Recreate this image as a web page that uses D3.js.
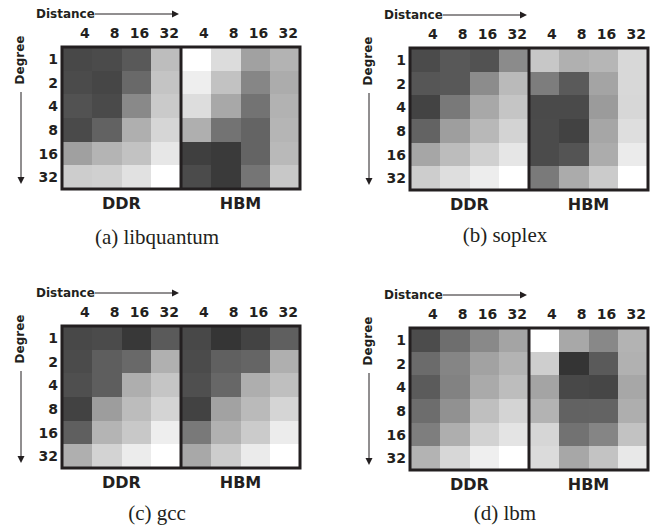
<!DOCTYPE html>
<html>
<head>
<meta charset="utf-8">
<script src="https://cdn.jsdelivr.net/npm/d3@7"></script>
<style>
  body { margin: 0; background: #fff; }
  text { fill: #231f20; }
</style>
</head>
<body>
<svg width="654" height="527"></svg>
<script>
// Axis categories
const distances = ["4", "8", "16", "32"];
const degrees = ["1", "2", "4", "8", "16", "32"];
const memories = ["DDR", "HBM"];

// Cell shades (0 = black, 255 = white), rows = degree, cols = distance
const libquantumDDR = [
  [72, 75, 89, 189],
  [75, 70, 105, 196],
  [82, 74, 137, 202],
  [74, 98, 175, 214],
  [160, 180, 194, 231],
  [205, 208, 225, 255]
];
const libquantumHBM = [
  [255, 220, 161, 179],
  [238, 194, 134, 172],
  [221, 168, 115, 178],
  [175, 115, 100, 181],
  [63, 58, 100, 185],
  [75, 58, 117, 200]
];
const soplexDDR = [
  [75, 88, 82, 139],
  [86, 88, 140, 186],
  [67, 121, 168, 197],
  [99, 158, 184, 211],
  [166, 188, 208, 230],
  [205, 222, 237, 255]
];
const soplexHBM = [
  [199, 176, 182, 216],
  [125, 90, 164, 216],
  [74, 74, 155, 215],
  [75, 66, 166, 222],
  [75, 84, 172, 235],
  [122, 171, 203, 255]
];
const gccDDR = [
  [72, 75, 56, 90],
  [75, 94, 105, 176],
  [79, 94, 174, 197],
  [66, 157, 188, 212],
  [95, 180, 200, 238],
  [175, 211, 236, 255]
];
const gccHBM = [
  [72, 53, 67, 95],
  [75, 96, 101, 175],
  [79, 103, 174, 191],
  [66, 162, 186, 213],
  [121, 177, 203, 236],
  [168, 205, 235, 255]
];
const lbmDDR = [
  [76, 110, 137, 164],
  [107, 133, 162, 179],
  [91, 130, 170, 189],
  [109, 145, 191, 212],
  [126, 174, 210, 228],
  [179, 215, 239, 255]
];
const lbmHBM = [
  [255, 168, 136, 179],
  [206, 52, 90, 177],
  [164, 72, 70, 167],
  [179, 98, 99, 174],
  [214, 114, 133, 194],
  [219, 167, 195, 232]
];

const svg = d3.select("svg");
const panelW = 238, panelH = 142;
const ink = "#231f20";

const panels = [
  { tag: "(a)", name: "libquantum", ddr: libquantumDDR, hbm: libquantumHBM, x: 62, y: 47, capY: 244 },
  { tag: "(b)", name: "soplex", ddr: soplexDDR, hbm: soplexHBM, x: 410, y: 48, capY: 242 },
  { tag: "(c)", name: "gcc", ddr: gccDDR, hbm: gccHBM, x: 62, y: 326, capY: 520 },
  { tag: "(d)", name: "lbm", ddr: lbmDDR, hbm: lbmHBM, x: 410, y: 328, capY: 520 }
];

// Shared scales
const columns = memories.flatMap(m => distances.map(d => m + d));
const x = d3.scaleBand().domain(columns).range([0, panelW]);
const y = d3.scaleBand().domain(degrees).range([0, panelH]);
const shade = d3.scaleLinear().domain([0, 255]).range(["#000000", "#ffffff"]);

// Small filled arrow head
function arrowHead(g, px, py, dir) {
  const s = 3.5, l = 7;
  const pts = dir === "right"
    ? [[px, py], [px - l, py - s], [px - l, py + s]]
    : [[px, py], [px - s, py - l], [px + s, py - l]];
  g.append("path").attr("d", d3.line()(pts) + "Z").attr("fill", ink);
}

panels.forEach(p => {
  const g = svg.append("g").attr("transform", `translate(${p.x},${p.y})`);

  const cells = memories.flatMap((m, mi) => {
    const src = mi === 0 ? p.ddr : p.hbm;
    return degrees.flatMap((deg, ri) => distances.map((dist, ci) => ({
      col: m + dist, row: deg, v: src[ri][ci]
    })));
  });

  // Heatmap cells
  g.selectAll("rect.cell")
    .data(cells)
    .enter().append("rect")
      .attr("class", "cell")
      .attr("x", d => x(d.col))
      .attr("y", d => y(d.row))
      .attr("width", x.bandwidth() + 0.5)
      .attr("height", y.bandwidth() + 0.5)
      .attr("fill", d => shade(d.v))
      .attr("shape-rendering", "crispEdges");

  // Frame and divider between DDR and HBM
  g.append("rect")
    .attr("width", panelW).attr("height", panelH)
    .attr("fill", "none").attr("stroke", ink).attr("stroke-width", 3);
  g.append("line")
    .attr("x1", x("HBM4")).attr("x2", x("HBM4"))
    .attr("y1", 0).attr("y2", panelH)
    .attr("stroke", ink).attr("stroke-width", 3);

  // Distance labels on top
  g.selectAll("text.col")
    .data(columns)
    .enter().append("text")
      .attr("class", "col")
      .attr("x", d => x(d) + x.bandwidth() - 2)
      .attr("y", -9)
      .attr("text-anchor", "end")
      .attr("font-family", "DejaVu Sans")
      .attr("font-weight", "bold")
      .attr("font-size", 14)
      .text(d => d.replace(/^(DDR|HBM)/, ""));

  // Degree labels on the left
  g.selectAll("text.row")
    .data(degrees)
    .enter().append("text")
      .attr("class", "row")
      .attr("x", -4)
      .attr("y", d => y(d) + y.bandwidth() / 2 + 5)
      .attr("text-anchor", "end")
      .attr("font-family", "DejaVu Sans")
      .attr("font-weight", "bold")
      .attr("font-size", 14)
      .text(d => d);

  // "Distance" with arrow
  g.append("text")
    .attr("x", -26).attr("y", -29)
    .attr("font-family", "DejaVu Sans")
    .attr("font-weight", "bold")
    .attr("font-size", 12)
    .text("Distance");
  g.append("line")
    .attr("x1", 33).attr("x2", 112)
    .attr("y1", -33).attr("y2", -33)
    .attr("stroke", ink).attr("stroke-width", 1);
  arrowHead(g, 117, -33, "right");

  // "Degree" with arrow
  g.append("text")
    .attr("transform", "translate(-38,13) rotate(-90)")
    .attr("text-anchor", "middle")
    .attr("font-family", "DejaVu Sans")
    .attr("font-weight", "bold")
    .attr("font-size", 12)
    .text("Degree");
  g.append("line")
    .attr("x1", -41).attr("x2", -41)
    .attr("y1", 45).attr("y2", 131)
    .attr("stroke", ink).attr("stroke-width", 1);
  arrowHead(g, -41, 137, "down");

  // Memory labels under the blocks
  memories.forEach(m => {
    const x0 = x(m + distances[0]);
    const x1 = x(m + distances[distances.length - 1]) + x.bandwidth();
    g.append("text")
      .attr("x", (x0 + x1) / 2)
      .attr("y", panelH + 20)
      .attr("text-anchor", "middle")
      .attr("font-family", "DejaVu Sans")
      .attr("font-weight", "bold")
      .attr("font-size", 16)
      .text(m);
  });

  // Caption
  g.append("text")
    .attr("x", (panelW - 48) / 2)
    .attr("y", p.capY - p.y)
    .attr("text-anchor", "middle")
    .attr("font-family", "Liberation Serif")
    .attr("font-size", 21)
    .attr("xml:space", "preserve")
    .text(`${p.tag} ${p.name}`);
});
</script>
</body>
</html>
